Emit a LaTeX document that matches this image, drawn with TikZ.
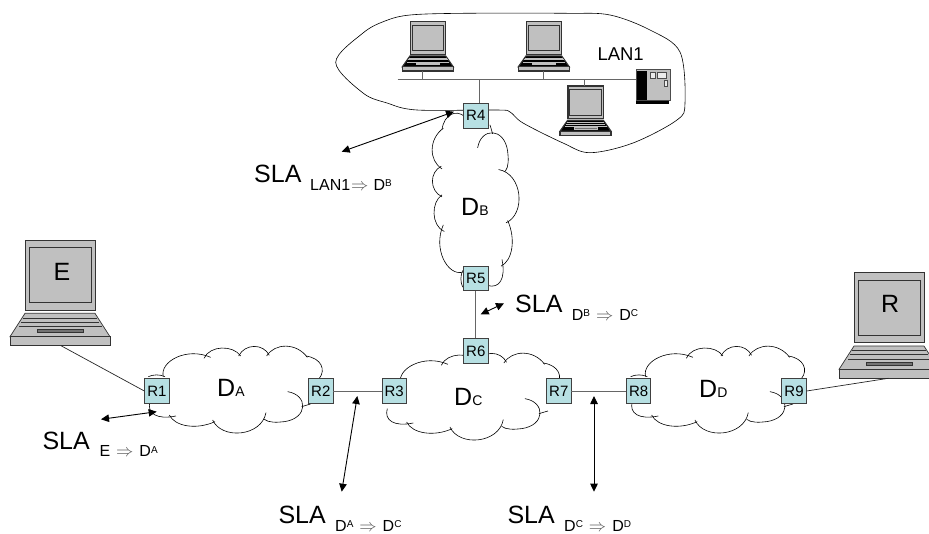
\documentclass[tikz,border=0pt]{standalone}
\usepackage{fontspec}
\setmainfont{Liberation Sans}
\usetikzlibrary{arrows.meta}
\definecolor{boxfill}{HTML}{B7E0E3}
\definecolor{boxline}{HTML}{404040}
\definecolor{lapgrey}{HTML}{C0C0C0}
\definecolor{wiregrey}{HTML}{666666}
\tikzset{
  router/.style={draw=boxline,fill=boxfill,line width=0.8pt,minimum size=24.5pt,inner sep=0pt,font=\fontsize{15}{15}\selectfont},
  cloudline/.style={draw=black,line width=0.6pt},
  wire/.style={draw=wiregrey,line width=0.9pt},
  thinwire/.style={draw=black!85,line width=0.7pt},
  slaarrow/.style={draw=black,line width=0.9pt,{Triangle[length=8pt,width=7.5pt]}-{Triangle[length=8pt,width=7.5pt]}},
  txt/.style={inner sep=0pt,anchor=base west},
}
\newcommand\bigt{\fontsize{25}{25}\selectfont}
\newcommand\subt{\fontsize{16}{16}\selectfont}
\newcommand\smt{\fontsize{10}{10}\selectfont}
\newcommand\dsup[1]{D\raisebox{3.3pt}{\smt #1}}
\newcommand\thn{\hspace{6pt}\textcolor{black!65}{$\Rightarrow$}\hspace{6pt}}
\newcommand\dnm[1]{\bigt D{\fontsize{14}{14}\selectfont #1}}
\newcommand\cloudshape{%
  \draw[cloudline] (490,440) .. controls (478,395) and (560,350) .. (632,382);
  \draw[cloudline] (612,385) .. controls (630,345) and (700,345) .. (722,378);
  \draw[cloudline] (716,378) .. controls (735,340) and (790,340) .. (808,376);
  \draw[cloudline] (800,378) .. controls (825,338) and (890,338) .. (922,382);
  \draw[cloudline] (918,378) .. controls (965,385) and (978,420) .. (958,445);
  \draw[cloudline] (863,485) .. controls (925,495) and (925,565) .. (853,575) .. controls (830,578) and (805,578) .. (793,568);
  \draw[cloudline] (905,530) -- (932,522);
  \draw[cloudline] (798,548) .. controls (785,620) and (665,630) .. (638,570);
  \draw[cloudline] (645,575) .. controls (590,600) and (525,590) .. (508,555);
  \draw[cloudline] (528,558) .. controls (470,570) and (440,550) .. (450,515);
  \draw[cloudline] (445,440) .. controls (460,433) and (480,433) .. (495,440);
}
% origin x, origin y, x scale, y scale, keyboard, key rows, line width
\newcommand\laptop[7]{%
  \begin{scope}[shift={(#1,#2)},xscale=#3,yscale=#4,line width=#7]
    \draw[draw=black!80,fill=lapgrey] (77,30) rectangle (285,240);
    \draw[draw=black!80,fill=lapgrey] (88,52) rectangle (274,217);
    \fill[#5] (75,250) -- (285,250) -- (330,320) -- (30,320) -- cycle;
    \draw[draw=black!80] (75,250) -- (285,250) -- (330,320) -- (30,320) -- cycle;
    \draw[draw=#6] (70,264) -- (290,264) (64,276) -- (297,276) (57,290) -- (305,290);
    \draw[draw=#6,fill=black!55] (113,298) rectangle (250,308);
    \draw[draw=black!80,fill=lapgrey] (30,320) rectangle (330,347);
  \end{scope}
}
\begin{document}
\begin{tikzpicture}[x=1pt,y=-1pt]
\useasboundingbox (0,0) rectangle (929,533);

% LAN outline
\draw[cloudline] plot[smooth cycle,tension=0.55] coordinates {
  (335.7,62.3) (363,33) (385,21) (410,15) (463,13.3) (566.7,13.3) (610,15) (650,30)
  (680,52) (685,103) (677,120) (633,143) (590,152.7) (563,143) (523,123) (510,112)
  (497,110) (417,110) (387,103) (363,93)};

% clouds
\begin{scope}[shift={(0,230)},scale=0.3333]\cloudshape\end{scope}
\begin{scope}[shift={(237.3,237)},scale=0.3333]\cloudshape\end{scope}
\begin{scope}[shift={(482.3,230)},scale=0.3333]\cloudshape\end{scope}
\begin{scope}[shift={(475,199)},rotate=90,shift={(-236.5,-389)},shift={(0,230)},scale=0.3333]\cloudshape\end{scope}

% computers
\laptop{0}{230}{0.3333}{0.3333}{lapgrey}{black!80}{0.7pt}
\laptop{829}{262.7}{0.3333}{0.3333}{lapgrey}{black!80}{0.7pt}
\laptop{397.2}{17}{0.17}{0.1556}{black}{lapgrey}{1.1pt}
\laptop{513.2}{17}{0.17}{0.1556}{black}{lapgrey}{1.1pt}
\laptop{554.9}{81.3}{0.17}{0.1556}{black}{lapgrey}{1.1pt}

% server
\fill[black] (636,100) rectangle (669,104);
\draw[draw=black!70,fill=lapgrey,line width=0.6pt] (636,69) rectangle (670,100);
\fill[black] (637,71) rectangle (647,100);
\draw[draw=black!70,fill=white!70!lapgrey,line width=0.5pt] (650,72) rectangle (655,78) (657,72) rectangle (666,78) (664,80) rectangle (667,86);
\coordinate (serverport) at (636,79);

% bus
\coordinate (busleft) at (397.7,79);
\coordinate (busR4) at (479.7,79);
\draw[wire] (busleft) -- (serverport);
\draw[wire] (422.7,71) -- (422.7,79);
\draw[wire] (543.3,71) -- (543.3,79);
\draw[wire] (584.7,79) -- (584.7,86);

% routers
\node[router] (R1) at (157,391) {R1};
\node[router] (R2) at (320.8,391) {R2};
\node[router] (R3) at (394.2,391) {R3};
\node[router] (R4) at (475.8,115.8) {R4};
\node[router] (R5) at (475.8,278.5) {R5};
\node[router] (R6) at (475.8,351) {R6};
\node[router] (R7) at (558.8,391) {R7};
\node[router] (R8) at (638.6,391) {R8};
\node[router] (R9) at (794,391) {R9};

% connectors
\coordinate (Eport) at (61,345.7);
\coordinate (Rport) at (888.3,378.3);
\draw[thinwire] (Eport) -- (R1.west);
\draw[thinwire] (R9.east) -- (Rport);
\draw[wire] (R2) -- (R3);
\draw[wire] (R7) -- (R8);
\draw[wire] (R5) -- (R6);
\draw[wire] (busR4) -- (busR4 |- R4.north);

% SLA arrows
\coordinate (a1s) at (341.7,151.7); \coordinate (a1e) at (454,111.7);
\coordinate (a2s) at (101,419.3);   \coordinate (a2e) at (156.7,411.7);
\coordinate (a3s) at (480.7,314.3); \coordinate (a3e) at (504,303.3);
\coordinate (a4s) at (341.7,491.7); \coordinate (a4e) at (357.3,396);
\coordinate (a5s) at (594,491.7);   \coordinate (a5e) at (594,396);
\draw[slaarrow] (a1s) -- (a1e);
\draw[slaarrow] (a2s) -- (a2e);
\draw[slaarrow] (a3s) -- (a3e);
\draw[slaarrow] (a4s) -- (a4e);
\draw[slaarrow] (a5s) -- (a5e);

% texts
\node[txt] (tE) at (53.3,280) {\bigt E};
\node[txt] (tR) at (881,312.3) {\bigt R};
\node[txt] (tLAN) at (597.3,60.7) {\fontsize{18.5}{18.5}\selectfont LAN1};
\node[txt] (dA) at (217,396.7) {\dnm{A}};
\node[txt] (dB) at (461,215) {\dnm{B}};
\node[txt] (dC) at (454,405) {\dnm{C}};
\node[txt] (dD) at (699,397.3) {\dnm{D}};

\node[txt] (s1) at (254,182.7) {\bigt SLA};
\node[txt] (s1b) at (310,190) {\subt LAN1\hspace{-5pt}\thn\hspace{-1pt}\dsup{B}};
\node[txt] (s2) at (42.3,449.3) {\bigt SLA};
\node[txt] (s2b) at (99.3,456.7) {\subt E\thn\dsup{A}};
\node[txt] (s3) at (515,312.7) {\bigt SLA};
\node[txt] (s3b) at (571.7,320) {\subt \dsup{B}\thn\dsup{C}};
\node[txt] (s4) at (278.3,523.3) {\bigt SLA};
\node[txt] (s4b) at (335,531) {\subt \dsup{A}\thn\dsup{C}};
\node[txt] (s5) at (507.3,523.3) {\bigt SLA};
\node[txt] (s5b) at (564,531) {\subt \dsup{C}\thn\dsup{D}};
\end{tikzpicture}
\end{document}
